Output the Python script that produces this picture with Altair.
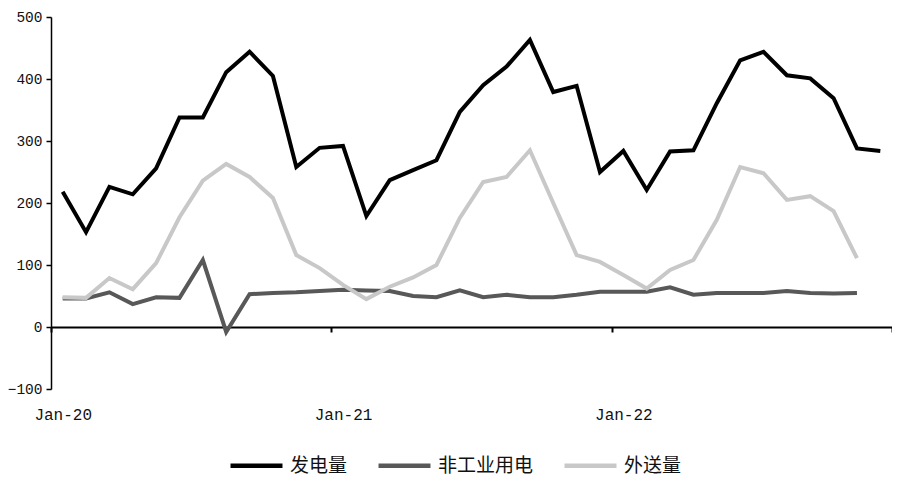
import altair as alt
import pandas as pd

# Monthly series, Jan-2020 .. Dec-2022 (index 0 = Jan-20)
series_names = ["发电量", "非工业用电", "外送量"]
fadian = [218, 153, 226, 214, 256, 338, 338, 411, 444, 405, 258, 289,
          292, 179, 237, 253, 269, 347, 390, 420, 463, 379, 389, 250,
          284, 221, 283, 285, 361, 430, 444, 406, 401, 369, 288, 284]
feigongye = [46, 46, 56, 37, 48, 47, 108, -8, 53, 55, 56, 58,
             60, 59, 58, 50, 48, 59, 48, 52, 48, 48, 52, 57,
             57, 57, 64, 52, 55, 55, 55, 58, 55, 54, 55]
waisong = [48, 47, 79, 61, 103, 177, 236, 263, 242, 208, 116, 95,
           68, 45, 65, 80, 100, 176, 234, 242, 285, 200, 116, 105,
           84, 62, 92, 108, 173, 258, 248, 205, 211, 187, 111]
tick_labels = ["Jan-20", "Jan-21", "Jan-22"]
colors = ["#000000", "#585858", "#c8c8c8"]

rows = []
for name, vals in zip(series_names, [fadian, feigongye, waisong]):
    for i, v in enumerate(vals):
        rows.append({"m": i, "v": v, "s": name})
df = pd.DataFrame(rows)

label_expr = ("datum.value < 0 ? '%s' : datum.value < 12 ? '%s' : "
              "datum.value < 24 ? '%s' : ''") % tuple(tick_labels)

chart = alt.Chart(df).mark_line(strokeWidth=4, strokeJoin="miter").encode(
    x=alt.X("m:Q",
            scale=alt.Scale(domain=[-0.5, 35.5], nice=False, zero=False),
            axis=alt.Axis(values=[-0.5, 11.5, 23.5, 35.5], labelExpr=label_expr,
                          title=None, grid=False, offset=-62,
                          domainColor="black", domainWidth=2,
                          tickColor="black", tickWidth=2, tickSize=5,
                          labelFont="Liberation Mono", labelFontSize=16,
                          labelColor="#111", labelOffset=11.7, labelPadding=74,
                          labelFlush=False, labelOverlap=False,
                          labelAlign="center")),
    y=alt.Y("v:Q",
            scale=alt.Scale(domain=[-100, 500], nice=False),
            axis=alt.Axis(values=[-100, 0, 100, 200, 300, 400, 500],
                          title=None, grid=False,
                          domainColor="black", domainWidth=1.5,
                          tickColor="black", tickWidth=1.5, tickSize=5,
                          labelFont="Liberation Mono", labelFontSize=14.5,
                          labelColor="#111", labelPadding=4)),
    color=alt.Color("s:N",
                    scale=alt.Scale(domain=series_names, range=colors),
                    sort=series_names,
                    legend=alt.Legend(title=None, orient="none",
                                      direction="horizontal",
                                      legendX=177, legendY=420,
                                      symbolType="stroke", symbolSize=2700,
                                      symbolStrokeWidth=4.5,
                                      labelFont="Noto Sans CJK SC",
                                      labelFontSize=19, labelColor="#111",
                                      labelOffset=5, columnPadding=21)),
    order=alt.Order("s:N"),
).properties(
    width=841, height=372,
    padding={"left": 43, "top": 9, "right": 0, "bottom": 88},
    autosize=alt.AutoSizeParams(type="none"),
).configure_view(stroke=None)

chart.save("out.html", embed_options={"renderer": "svg", "actions": False})
